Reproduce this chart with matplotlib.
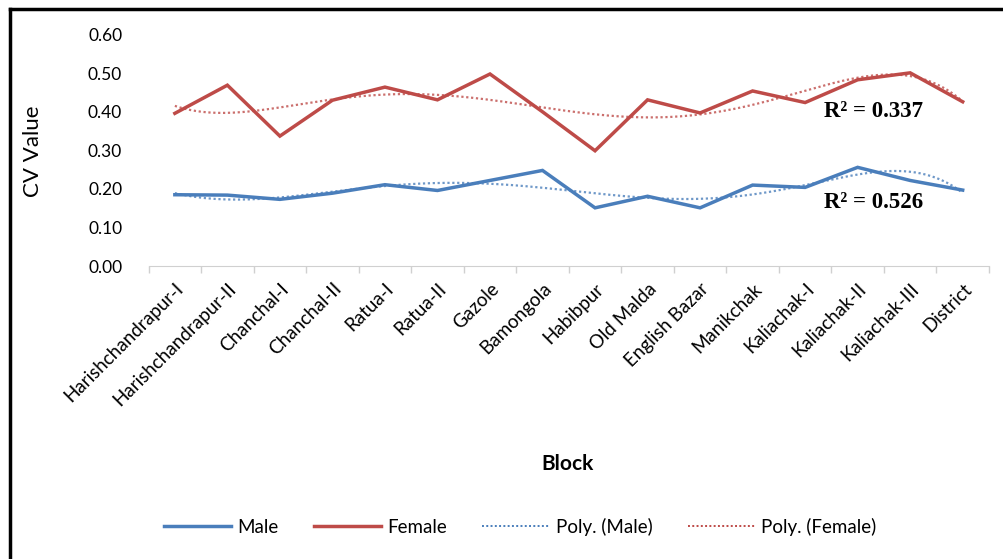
import numpy as np
import matplotlib
matplotlib.use('Agg')
import matplotlib.pyplot as plt
from matplotlib.lines import Line2D

blocks = ['Harishchandrapur-I', 'Harishchandrapur-II', 'Chanchal-I', 'Chanchal-II',
          'Ratua-I', 'Ratua-II', 'Gazole', 'Bamongola', 'Habibpur', 'Old Malda',
          'English Bazar', 'Manikchak', 'Kaliachak-I', 'Kaliachak-II', 'Kaliachak-III',
          'District']
male = [0.185, 0.184, 0.173, 0.189, 0.211, 0.196, 0.222, 0.248, 0.151, 0.181,
        0.151, 0.210, 0.204, 0.256, 0.222, 0.197]
female = [0.396, 0.469, 0.337, 0.430, 0.464, 0.431, 0.498, 0.400, 0.299, 0.431,
          0.397, 0.454, 0.424, 0.483, 0.501, 0.426]
r2_male = '0.526'
r2_female = '0.337'
yticks = [0.0, 0.1, 0.2, 0.3, 0.4, 0.5, 0.6]

blue = '#4a7ebb'
red = '#be4b48'
font = 'Lato'

fig = plt.figure(figsize=(10.04, 5.59), dpi=100)
ax = fig.add_axes([0.148, 0.524, 0.837, 0.414])

x = np.arange(1, len(blocks) + 1)
xf = np.linspace(1, len(blocks), 300)

# Excel style polynomial trendlines (order 6 on x = 1..n)
trend_m = np.polyval(np.polyfit(x, male, 6), xf)
trend_f = np.polyval(np.polyfit(x, female, 6), xf)

ax.plot(xf, trend_m, color=blue, lw=1.6, ls=(0, (1, 1.2)), alpha=0.8)
ax.plot(xf, trend_f, color=red, lw=1.6, ls=(0, (1, 1.2)), alpha=0.8)
ax.plot(x, male, color=blue, lw=2.5, solid_joinstyle='miter')
ax.plot(x, female, color=red, lw=2.5, solid_joinstyle='miter')

ax.set_xlim(0.5, len(blocks) + 0.5)
ax.set_ylim(0, 0.6)
ax.set_yticks(yticks)
ax.set_yticklabels(['%.2f' % v for v in yticks], fontsize=12.5, family=font)
ax.tick_params(axis='y', length=0, pad=19)

ax.set_xticks(x)
ax.set_xticklabels(blocks, rotation=45, ha='right', rotation_mode='anchor',
                   fontsize=13.5, family=font)
ax.tick_params(axis='x', which='major', length=0, pad=10)
ax.set_xticks(np.arange(0.5, len(blocks) + 1), minor=True)
ax.tick_params(axis='x', which='minor', length=5, color='#d0d0d0', width=1)

for s in ['top', 'right', 'left']:
    ax.spines[s].set_visible(False)
ax.spines['bottom'].set_color('#d0d0d0')

ax.text(14.3, 0.40, 'R² = ' + r2_female, fontsize=16.5, family='Liberation Serif',
        fontweight='bold', ha='center', va='center')
ax.text(14.3, 0.165, 'R² = ' + r2_male, fontsize=16.5, family='Liberation Serif',
        fontweight='bold', ha='center', va='center')

fig.text(0.033, 0.73, 'CV Value', rotation=90, fontsize=16, family=font,
         ha='center', va='center')
fig.text(0.565, 0.17, 'Block', fontsize=15, family=font, fontweight='bold',
         ha='center', va='center')

handles = [Line2D([], [], color=blue, lw=2.5),
           Line2D([], [], color=red, lw=2.5),
           Line2D([], [], color=blue, lw=1.4, ls=(0, (1, 1.2))),
           Line2D([], [], color=red, lw=1.4, ls=(0, (1, 1.2)))]
fig.legend(handles, ['Male', 'Female', 'Poly. (Male)', 'Poly. (Female)'],
           loc='center', bbox_to_anchor=(0.518, 0.058), ncol=4, frameon=False,
           prop={'family': font, 'size': 13.5}, handlelength=3.6, handletextpad=0.3,
           columnspacing=1.9)

# outer frame (clipped at right and bottom as in the reference)
fig.add_artist(Line2D([0.010, 1.0], [1 - 9 / 559, 1 - 9 / 559], color='black', lw=2.5))
fig.add_artist(Line2D([0.010, 0.010], [0, 1 - 9 / 559], color='black', lw=2.5))

fig.savefig('out.png', dpi=100)
